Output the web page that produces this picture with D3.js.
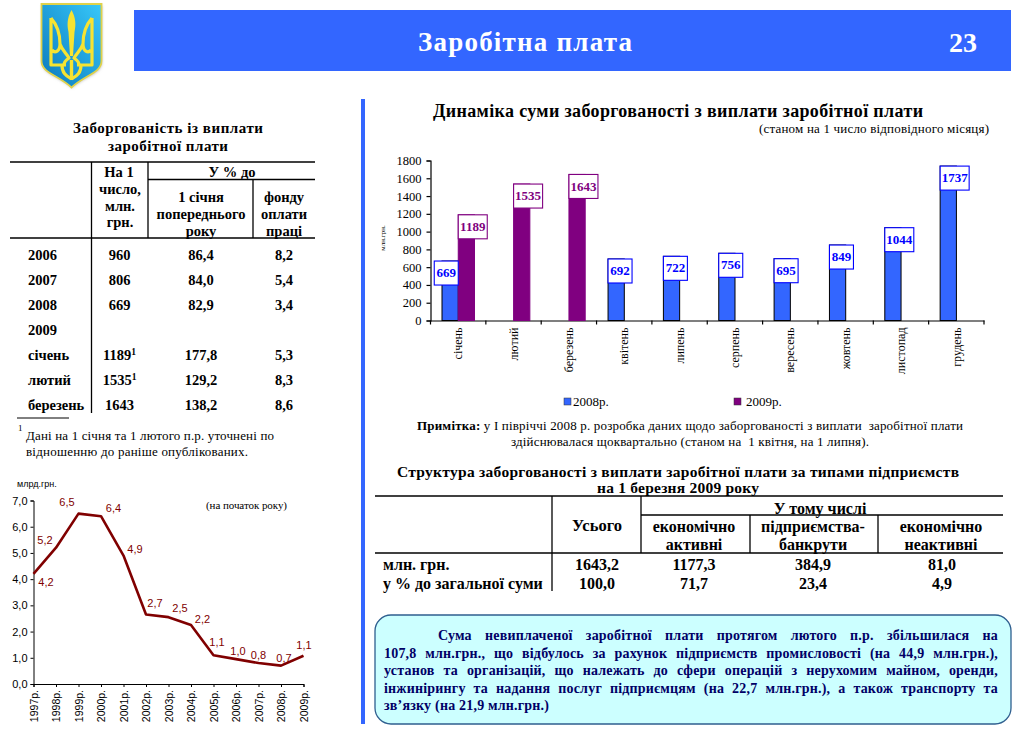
<!DOCTYPE html>
<html><head><meta charset="utf-8">
<script src="https://cdn.jsdelivr.net/npm/d3@7/dist/d3.min.js"></script>
<style>
html,body{margin:0;padding:0;background:#fff;overflow:hidden}
svg{display:block}
text{font-family:"Liberation Serif",serif;fill:#000;white-space:pre}
.sans,.sans text{font-family:"Liberation Sans",Arial,sans-serif}
</style></head><body>
<svg id="c" width="1021" height="734" viewBox="0 0 1021 734"></svg>
<script>
// ---- data ----
const months = ["січень","лютий","березень","квітень","липень","серпень","вересень","жовтень","листопад","грудень"];
const debt2008 = [669,null,null,692,722,756,695,849,1044,1737];
const debt2009 = [1189,1535,1643,null,null,null,null,null,null,null];
const barTicks = [0,200,400,600,800,1000,1200,1400,1600,1800];
const seriesNames = ["2008р.","2009р."];

const years = ["1997р.","1998р.","1999р.","2000р.","2001р.","2002р.","2003р.","2004р.","2005р.","2006р.","2007р.","2008р.","2009р."];
const yearDebt = [4.2,5.2,6.5,6.4,4.9,2.65,2.55,2.25,1.1,0.95,0.8,0.7,1.08];
const yearLabels = ["4,2","5,2","6,5","6,4","4,9","2,7","2,5","2,2","1,1","1,0","0,8","0,7","1,1"];
const lineTicks = [0,1,2,3,4,5,6,7];

const leftRowNames = ["2006","2007","2008","2009","січень","лютий","березень"];
const leftCol1 = ["960","806","669","","1189","1535","1643"];
const leftCol1Note = [0,0,0,0,1,1,0];
const leftCol2 = ["86,4","84,0","82,9","","177,8","129,2","138,2"];
const leftCol3 = ["8,2","5,4","3,4","","5,3","8,3","8,6"];

const structRows = ["млн. грн.","у % до загальної суми"];
const structTotal = ["1643,2","100,0"];
const structActive = ["1177,3","71,7"];
const structBankrupt = ["384,9","23,4"];
const structInactive = ["81,0","4,9"];

const calloutLines = [
 "Сума невиплаченої заробітної плати протягом лютого п.р. збільшилася на",
 "107,8 млн.грн., що відбулось за рахунок підприємств промисловості (на 44,9 млн.грн.),",
 "установ та організацій, що належать до сфери операцій з нерухомим майном, оренди,",
 "інжинірингу та надання послуг підприємцям (на 22,7 млн.грн.), а також транспорту та",
 "зв’язку (на 21,9 млн.грн.)"
];

// ---- helpers ----
const BLUE="#3366ff", PURPLE="#800080", MAROON="#800000", NAVY="#000066";
const SANS='"Liberation Sans",Arial,sans-serif';
const svg=d3.select("#c");
svg.append("rect").attr("width",1021).attr("height",734).attr("fill","#fff");

function T(str,x,cy,o={}){
  const t=svg.append("text").attr("x",x).attr("y",cy).attr("dy",".35em")
    .attr("text-anchor",o.a||"middle").attr("font-size",o.s||13)
    .attr("font-weight",o.w===undefined?"bold":o.w).style("fill",o.c||"#000").text(str);
  if(o.ls) t.style("letter-spacing",o.ls+"px");
  if(o.f) t.style("font-family",o.f);
  if(o.len) t.attr("textLength",o.len).attr("lengthAdjust","spacing");
  return t;
}
function L(x1,y1,x2,y2,w=1.3){
  svg.append("line").attr("x1",x1).attr("y1",y1).attr("x2",x2).attr("y2",y2)
    .attr("stroke","#000").attr("stroke-width",w);
}

// ---- header ----
const defs=svg.append("defs");
const g=defs.append("linearGradient").attr("id","sh").attr("x1","1").attr("y1","0").attr("x2","0").attr("y2","1");
g.append("stop").attr("offset","0").attr("stop-color","#38c8fa");
g.append("stop").attr("offset","1").attr("stop-color","#0a78bc");
const blur=defs.append("filter").attr("id","bl").attr("x","-20%").attr("y","-20%").attr("width","140%").attr("height","140%");
blur.append("feGaussianBlur").attr("stdDeviation","1.6");

svg.append("path").attr("d","M42,5H102V62C102,74 86,76 72,88C58,76 42,74 42,62Z").attr("fill","#bbb").attr("filter","url(#bl)");
svg.append("path").attr("d","M41.5,4H101.5V61C101.5,73 85,75 71.5,87.5C58,75 41.5,73 41.5,61Z")
  .attr("fill","url(#sh)").attr("stroke","#e0d24a").attr("stroke-width",1.8);
const tri=svg.append("g").attr("fill","none").attr("stroke","#f6e332").attr("stroke-width",3.2).attr("stroke-linejoin","round");
tri.append("path").attr("d","M71.5,10C76,18 76,25 74.5,32L73,56H70L68.5,32C67,25 67,18 71.5,10Z").attr("fill","#f6e332").attr("stroke","none");
const arm="M51,18V65H66 M51,18C58,26 60,34 60,44C60,51 55,54 52,50 M60,44C62,50 66,53 69,58C66,60 64,62 64,65 M62,65C62,74 67,76 71.5,79";
tri.append("path").attr("d",arm);
tri.append("path").attr("d",arm).attr("transform","translate(143,0) scale(-1,1)");
tri.append("path").attr("d","M71.5,60V80").attr("stroke-width",3.4);

svg.append("rect").attr("x",134).attr("y",10).attr("width",877).attr("height",61).attr("fill",BLUE);
T("Заробітна плата",525,42,{s:27,c:"#fff",len:214});
T("23",963,42,{s:28,c:"#fff"});
svg.append("rect").attr("x",361).attr("y",99).attr("width",4).attr("height",625).attr("fill",BLUE);

// ---- left table ----
T("Заборгованість із виплати",168,127.5,{s:15,len:190});
T("заробітної плати",168,145.5,{s:15,len:120});
L(10,162,315,162); L(148,179.5,315,179.5); L(10,238,315,238);
L(91.5,162,91.5,413); L(148,162,148,238); L(253,179.5,253,238);
[["На 1",119,171.5],["число,",120,189],["млн.",120,206],["грн.",120,222],["У % до",232,172],
 ["1 січня",201,197],["попереднього",201,214],["року",201,231],["фонду",284,197],["оплати",284,214],["праці",284,231]]
 .forEach(d=>T(d[0],d[1],d[2],{s:14.5}));
const rowY=d3.scalePoint().domain(d3.range(leftRowNames.length)).range([255,405]);
leftRowNames.forEach((n,i)=>{
  const y=rowY(i);
  T(n,28,y,{a:"start",s:14.5});
  const t=T(leftCol1[i],119.5,y,{s:14.5});
  if(leftCol1Note[i]) t.append("tspan").attr("dy",-5).attr("font-size",9.5).text("1");
  T(leftCol2[i],201,y,{s:14.5});
  T(leftCol3[i],284,y,{s:14.5});
});
L(17,418,69,418,1);
T("1",18,428,{a:"start",s:9,w:"normal"});
T("Дані на 1 січня та 1 лютого п.р. уточнені по",26,435,{a:"start",s:13,w:"normal",len:248});
T("відношенню до раніше опублікованих.",26,451,{a:"start",s:13,w:"normal",len:222});

// ---- line chart ----
const lx=d3.scalePoint().domain(years).range([33.5,303.5]);
const ly=d3.scaleLinear().domain([0,7]).range([684,500.5]);
const lineAxisY=svg.append("g").attr("class","sans").attr("transform","translate(33.5,0)")
  .call(d3.axisLeft(ly).tickValues(lineTicks).tickSize(3).tickPadding(3).tickFormat(d=>d3.format(".1f")(d).replace(".",",")));
const lineAxisX=svg.append("g").attr("class","sans").attr("transform","translate(0,684)")
  .call(d3.axisBottom(lx).tickSize(3).tickPadding(3));
[lineAxisX,lineAxisY].forEach(a=>{a.selectAll("path,line").attr("stroke","#000").attr("stroke-width",1);
  a.selectAll("text").attr("font-size",10.5).style("fill","#000");});
lineAxisY.selectAll("text").attr("font-size",11);
lineAxisX.selectAll("text").attr("transform","rotate(-90)").attr("text-anchor","end").attr("x",-6).attr("y",0).attr("dy",".35em");
svg.append("path").datum(yearDebt).attr("fill","none").attr("stroke",MAROON).attr("stroke-width",2.6).attr("stroke-linejoin","round")
  .attr("d",d3.line().x((d,i)=>lx(years[i])).y(d=>ly(d)));
const labelShift=[[12.5,8.5],[-11,-8],[-11.5,-11],[12.5,-8.5],[11.5,-6],[9,-11],[11.5,-9.5],[11.5,-6],[3.5,-13],[2,-8],[0,-8],[3,-8],[.5,-11]];
yearLabels.forEach((s,i)=>{
  T(s,lx(years[i])+labelShift[i][0],ly(yearDebt[i])+labelShift[i][1],{s:11,w:"normal",c:MAROON,f:SANS});
});
T("млрд.грн.",17,484,{a:"start",s:9,w:"normal",f:SANS});
T("(на початок року)",206,505,{a:"start",s:11,w:"normal",len:81});

// ---- bar chart ----
T("Динаміка суми заборгованості з виплати заробітної плати",433,111,{a:"start",s:18,len:490});
T("(станом на 1 число відповідного місяця)",989,128,{a:"end",s:13,w:"normal",len:230});
const bx=d3.scaleBand().domain(months).range([430.5,984]);
const bs=d3.scaleBand().domain(seriesNames).range([11.5,44]);
const by=d3.scaleLinear().domain([0,1800]).range([320.5,160.5]);
const ay=svg.append("g").attr("transform","translate(430.5,0)")
  .call(d3.axisLeft(by).tickValues(barTicks).tickSize(4).tickPadding(5).tickFormat(d3.format("d")));
const ax=svg.append("g").attr("transform","translate(0,320.5)")
  .call(d3.axisBottom(bx).tickSize(0).tickPadding(0));
ax.selectAll(".tick line").remove();
d3.range(months.length+1).forEach(i=>{
  const px=430.5+i*bx.step();
  ax.append("line").attr("x1",px).attr("x2",px).attr("y1",0).attr("y2",4);
});
[ax,ay].forEach(a=>{a.selectAll("path,line").attr("stroke","#000").attr("stroke-width",1.2);
  a.selectAll("text").style("fill","#000").style("font-family",'"Liberation Serif",serif');});
ay.selectAll("text").attr("font-size",12.5);
ax.selectAll(".tick text").attr("font-size",12).attr("transform","rotate(-90)").attr("text-anchor","end")
  .attr("x",-7).attr("y",0).attr("dy",".35em");
T("млн.грн.",383,238,{s:7,w:"normal"}).attr("transform","rotate(-90 383 238)");

const rows=months.map((m,i)=>({m,a:debt2008[i],b:debt2009[i]}));
const bars=[];
rows.forEach(r=>{
  if(r.a!=null) bars.push({m:r.m,v:r.a,s:seriesNames[0],pair:r.b!=null});
  if(r.b!=null) bars.push({m:r.m,v:r.b,s:seriesNames[1],pair:r.a!=null});
});
svg.append("g").selectAll("rect").data(bars).join("rect")
  .attr("x",d=>bx(d.m)+bs(d.s)).attr("y",d=>by(d.v)).attr("width",bs.bandwidth())
  .attr("height",d=>by(0)-by(d.v))
  .attr("fill",d=>d.s===seriesNames[0]?BLUE:PURPLE)
  .attr("stroke",d=>d.s===seriesNames[0]?"#000":PURPLE).attr("stroke-width",1);
const lab=svg.append("g");
bars.forEach(d=>{
  const col=d.s===seriesNames[0]?"#0000ff":PURPLE;
  const w=String(d.v).length>3?29:24;
  const first=d.s===seriesNames[0];
  const left=(first&&d.pair)?bx(d.m)+bs(d.s)+bs.bandwidth()-w:bx(d.m)+bs(d.s);
  lab.append("rect").attr("x",left).attr("y",by(d.v)).attr("width",w).attr("height",24)
    .attr("fill","#fff").attr("stroke",col).attr("stroke-width",1.1);
  lab.append("text").attr("x",left+w/2).attr("y",by(d.v)+11.5).attr("dy",".35em")
    .attr("text-anchor","middle").attr("font-size",13).attr("font-weight","bold").style("fill",col).text(d.v);
});
// legend
[[564,573,BLUE],[734,746,PURPLE]].forEach((p,i)=>{
  svg.append("rect").attr("x",p[0]).attr("y",398).attr("width",7).attr("height",7).attr("fill",p[2]).attr("stroke","#333").attr("stroke-width",.5);
  T(seriesNames[i],p[1],401.5,{a:"start",s:13,w:"normal"});
});

// ---- note ----
const n=T("",417,425,{a:"start",s:13,w:"normal",len:546});
n.append("tspan").attr("font-weight","bold").text("Примітка:");
n.append("tspan").text(" у І півріччі 2008 р. розробка даних щодо заборгованості з виплати  заробітної плати");
T("здійснювалася щоквартально (станом на  1 квітня, на 1 липня).",690,441,{s:13,w:"normal",len:358});

// ---- structure table ----
T("Структура заборгованості з виплати заробітної плати за типами підприємств",397,472,{a:"start",s:15.5,len:562});
T("на 1 березня 2009 року",678,488,{s:15.5,len:162});
L(375,496,1003,496); L(641,515,1003,515); L(375,553,1003,553);
L(552,496,552,591); L(641,496,641,553); L(750,515,750,553); L(878,515,878,553);
T("Усього",597,525,{s:16.5});
T("У тому числі",820,508,{s:16});
[["економічно",694,526],["активні",694,544],["підприємства-",813,526],["банкрути",813,544],["економічно",941,526],["неактивні",941,544]]
 .forEach(d=>T(d[0],d[1],d[2],{s:16}));
structRows.forEach((r,i)=>{
  const y=564+i*19;
  T(r,383,y,{a:"start",s:16});
  T(structTotal[i],597,y,{s:16});
  T(structActive[i],694,y,{s:16});
  T(structBankrupt[i],813,y,{s:16});
  T(structInactive[i],942,y,{s:16});
});

// ---- callout ----
svg.append("rect").attr("x",375).attr("y",615).attr("width",636).attr("height",109).attr("rx",16)
  .attr("fill","#ccffff").attr("stroke","#2f5f8f").attr("stroke-width",1.3);
calloutLines.forEach((s,i)=>{
  const x=i===0?438:384, y=635.5+i*17.4;
  const t=T(s,x,y,{a:"start",s:14,c:NAVY,ls:.2});
  if(i<calloutLines.length-1){
    const len=t.node().getComputedTextLength();
    const gaps=s.split(" ").length-1;
    t.attr("word-spacing",(998-x-len)/gaps);
  }
});
</script>
</body></html>
